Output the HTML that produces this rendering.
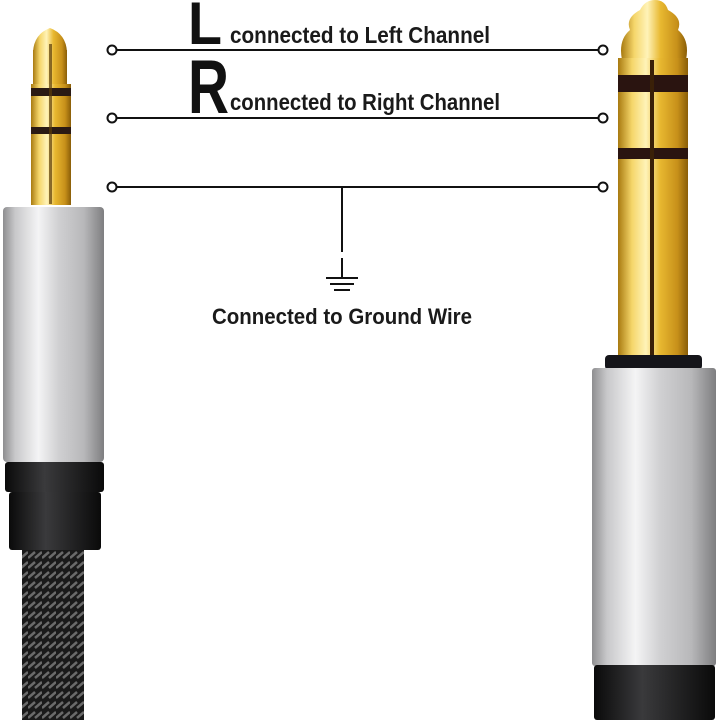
<!DOCTYPE html>
<html><head><meta charset="utf-8"><style>html,body{margin:0;padding:0;background:#fff}svg{display:block}</style></head><body>
<svg width="720" height="720" viewBox="0 0 720 720" xmlns="http://www.w3.org/2000/svg">
<defs>
<linearGradient id="gold" x1="0" x2="1" y1="0" y2="0">
<stop offset="0" stop-color="#a87a10"/><stop offset="0.2" stop-color="#f5d66a"/><stop offset="0.4" stop-color="#fff3b8"/><stop offset="0.6" stop-color="#e8b830"/><stop offset="0.85" stop-color="#c7901a"/><stop offset="1" stop-color="#8a5e08"/></linearGradient>
<linearGradient id="silver" x1="0" x2="1" y1="0" y2="0">
<stop offset="0" stop-color="#8e8e90"/><stop offset="0.12" stop-color="#c8c8ca"/><stop offset="0.35" stop-color="#f4f4f5"/><stop offset="0.55" stop-color="#d0d0d2"/><stop offset="0.8" stop-color="#b8b8ba"/><stop offset="1" stop-color="#7e7e80"/></linearGradient>
<linearGradient id="blk" x1="0" x2="1" y1="0" y2="0">
<stop offset="0" stop-color="#0a0a0a"/><stop offset="0.4" stop-color="#3a3a3c"/><stop offset="1" stop-color="#0a0a0a"/></linearGradient>
<pattern id="braid" width="14" height="10" patternUnits="userSpaceOnUse">
<rect width="14" height="10" fill="#1a1a1a"/><path d="M0 8 L7 2 M7 8 L14 2" stroke="#6a6a6a" stroke-width="2.5"/></pattern>
</defs>
<!-- left jack -->
<path d="M33 52 Q34 34 50 28 Q66 34 67 52 Z" fill="url(#gold)"/>
<rect x="33" y="50" width="34" height="34" fill="url(#gold)"/>
<rect x="31" y="84" width="40" height="121" fill="url(#gold)"/>
<rect x="31" y="88" width="40" height="8" fill="#2a1a14"/>
<rect x="31" y="127" width="40" height="7" fill="#2a1a14"/>
<rect x="49" y="44" width="3" height="160" fill="#5a3c08" opacity="0.7"/>
<rect x="3" y="207" width="101" height="255" rx="4" fill="url(#silver)"/>
<rect x="5" y="462" width="99" height="30" rx="3" fill="url(#blk)"/>
<rect x="9" y="492" width="92" height="58" rx="3" fill="url(#blk)"/>
<rect x="22" y="550" width="62" height="170" fill="url(#braid)"/>
<!-- right jack -->
<path d="M622 60 Q618 40 630 30 Q625 18 640 10 Q645 0 655 0 Q665 0 668 10 Q683 18 678 30 Q690 40 686 60 Z" fill="url(#gold)"/>
<rect x="618" y="58" width="70" height="300" fill="url(#gold)"/>
<rect x="618" y="75" width="70" height="17" fill="#2a1410"/>
<rect x="618" y="148" width="70" height="11" fill="#2a1410"/>
<rect x="650" y="60" width="4" height="298" fill="#3a2008"/>
<rect x="605" y="355" width="97" height="15" rx="4" fill="#15151a"/>
<rect x="592" y="368" width="124" height="298" rx="3" fill="url(#silver)"/>
<rect x="594" y="665" width="121" height="55" rx="3" fill="url(#blk)"/>
<!-- lines -->
<g stroke="#111" stroke-width="2" fill="#fff">
<line x1="116" y1="50" x2="599" y2="50"/><line x1="116" y1="118" x2="599" y2="118"/><line x1="116" y1="187" x2="599" y2="187"/>
<circle cx="112" cy="50" r="4.5"/><circle cx="112" cy="118" r="4.5"/><circle cx="112" cy="187" r="4.5"/>
<circle cx="603" cy="50" r="4.5"/><circle cx="603" cy="118" r="4.5"/><circle cx="603" cy="187" r="4.5"/>
<line x1="342" y1="187" x2="342" y2="252"/>
<line x1="342" y1="258" x2="342" y2="278"/>
<line x1="326" y1="278" x2="358" y2="278"/><line x1="330" y1="284" x2="354" y2="284"/><line x1="334" y1="290" x2="350" y2="290"/>
</g>
<g font-family="Liberation Sans, sans-serif" fill="#111">
<text x="188" y="44" font-size="60" font-weight="bold" textLength="34" lengthAdjust="spacingAndGlyphs">L</text>
<text x="230" y="43" font-size="23" textLength="260" lengthAdjust="spacingAndGlyphs" font-weight="bold" fill="#1a1a1a">connected to Left Channel</text>
<text x="188" y="113" font-size="76" font-weight="bold" textLength="41" lengthAdjust="spacingAndGlyphs">R</text>
<text x="230" y="110" font-size="23" textLength="270" lengthAdjust="spacingAndGlyphs" font-weight="bold" fill="#1a1a1a">connected to Right Channel</text>
<text x="212" y="324" font-size="22" textLength="260" lengthAdjust="spacingAndGlyphs" font-weight="bold" fill="#1a1a1a">Connected to Ground Wire</text>
</g>
</svg>
</body></html>
